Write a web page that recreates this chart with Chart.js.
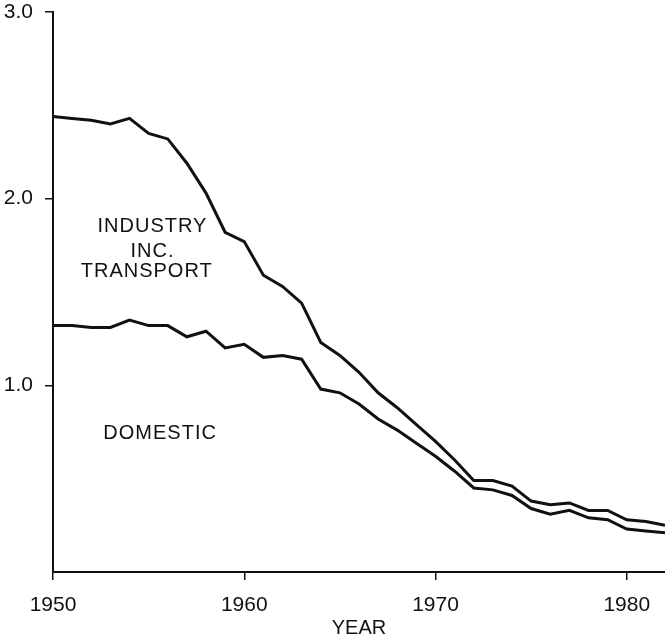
<!DOCTYPE html>
<html>
<head>
<meta charset="utf-8">
<script src="https://cdn.jsdelivr.net/npm/chart.js@4/dist/chart.umd.min.js"></script>
<style>
  html, body { margin: 0; padding: 0; background: #fff; }
  #wrap { width: 665px; height: 640px; position: relative; }
</style>
</head>
<body>
<div id="wrap"><canvas id="chart"></canvas></div>
<script>
// data
const years = [1950, 1951, 1952, 1953, 1954, 1955, 1956, 1957, 1958, 1959,
               1960, 1961, 1962, 1963, 1964, 1965, 1966, 1967, 1968, 1969,
               1970, 1971, 1972, 1973, 1974, 1975, 1976, 1977, 1978, 1979,
               1980, 1981, 1982];
// upper line: domestic + industry inc. transport
const industryTotal = [2.44, 2.43, 2.42, 2.40, 2.43, 2.35, 2.32, 2.19, 2.03, 1.82,
                       1.77, 1.59, 1.53, 1.44, 1.23, 1.16, 1.07, 0.96, 0.88, 0.79,
                       0.70, 0.60, 0.49, 0.49, 0.46, 0.38, 0.36, 0.37, 0.33, 0.33,
                       0.28, 0.27, 0.25];
// lower line: domestic
const domestic = [1.32, 1.32, 1.31, 1.31, 1.35, 1.32, 1.32, 1.26, 1.29, 1.20,
                  1.22, 1.15, 1.16, 1.14, 0.98, 0.96, 0.90, 0.82, 0.76, 0.69,
                  0.62, 0.54, 0.45, 0.44, 0.41, 0.34, 0.31, 0.33, 0.29, 0.28,
                  0.23, 0.22, 0.21];
const xTicks = [1950, 1960, 1970, 1980];
const yTicks = [1, 2, 3];
// area labels, placed in data units
const areaLabels = [
    { text: 'INDUSTRY', x: 1955.2, y: 1.85 },
    { text: 'INC.', x: 1955.2, y: 1.715 },
    { text: 'TRANSPORT', x: 1954.9, y: 1.61 },
    { text: 'DOMESTIC', x: 1955.6, y: 0.74 }
];

const FONT = 'Arial, "Liberation Sans", Helvetica, sans-serif';
const INK = '#111';

const toPoints = vals => years.map((yr, i) => ({ x: yr, y: vals[i] }));

// draws the text inside the chart
const areaLabelPlugin = {
    id: 'areaLabels',
    afterDatasetsDraw(chart) {
        const ctx = chart.ctx;
        const xs = chart.scales.x, ys = chart.scales.y;
        ctx.save();
        ctx.fillStyle = INK;
        ctx.font = '20px ' + FONT;
        ctx.textAlign = 'center';
        ctx.textBaseline = 'middle';
        if ('letterSpacing' in ctx) ctx.letterSpacing = '1px';
        areaLabels.forEach(l => {
            ctx.fillText(l.text, xs.getPixelForValue(l.x), ys.getPixelForValue(l.y));
        });
        ctx.restore();
    }
};

const lineStyle = {
    borderColor: INK,
    borderWidth: 3,
    pointRadius: 0,
    tension: 0,
    fill: false
};

new Chart(document.getElementById('chart'), {
    type: 'line',
    data: {
        datasets: [
            Object.assign({ label: 'Industry inc. transport', data: toPoints(industryTotal) }, lineStyle),
            Object.assign({ label: 'Domestic', data: toPoints(domestic) }, lineStyle)
        ]
    },
    options: {
        responsive: true,
        maintainAspectRatio: false,
        animation: false,
        layout: { padding: { top: 12, right: 0, left: 0, bottom: 0 } },
        plugins: {
            legend: { display: false },
            tooltip: { enabled: false }
        },
        scales: {
            x: {
                type: 'linear',
                min: 1950,
                max: 1982,
                afterBuildTicks: scale => { scale.ticks = xTicks.map(v => ({ value: v })); },
                afterFit: scale => { scale.height = 68; scale.paddingLeft = 0; scale.paddingRight = 0; },
                grid: { drawOnChartArea: false, drawTicks: true, tickLength: 8, color: INK, lineWidth: 1.5 },
                border: { color: INK, width: 2 },
                ticks: {
                    color: INK,
                    font: { family: FONT, size: 21 },
                    padding: 13,
                    maxRotation: 0,
                    callback: v => String(v)
                },
                title: { display: true, text: 'YEAR', color: INK, font: { family: FONT, size: 20 }, padding: { top: 0, bottom: 0 } }
            },
            y: {
                min: 0,
                max: 3,
                afterBuildTicks: scale => { scale.ticks = yTicks.map(v => ({ value: v })); },
                afterFit: scale => { scale.width = 53; scale.paddingTop = 0; scale.paddingBottom = 0; },
                grid: { drawOnChartArea: false, drawTicks: true, tickLength: 8, color: INK, lineWidth: 1.5 },
                border: { color: INK, width: 2 },
                ticks: {
                    color: INK,
                    font: { family: FONT, size: 21 },
                    padding: 12,
                    callback: v => v.toFixed(1)
                }
            }
        }
    },
    plugins: [areaLabelPlugin]
});
</script>
</body>
</html>
